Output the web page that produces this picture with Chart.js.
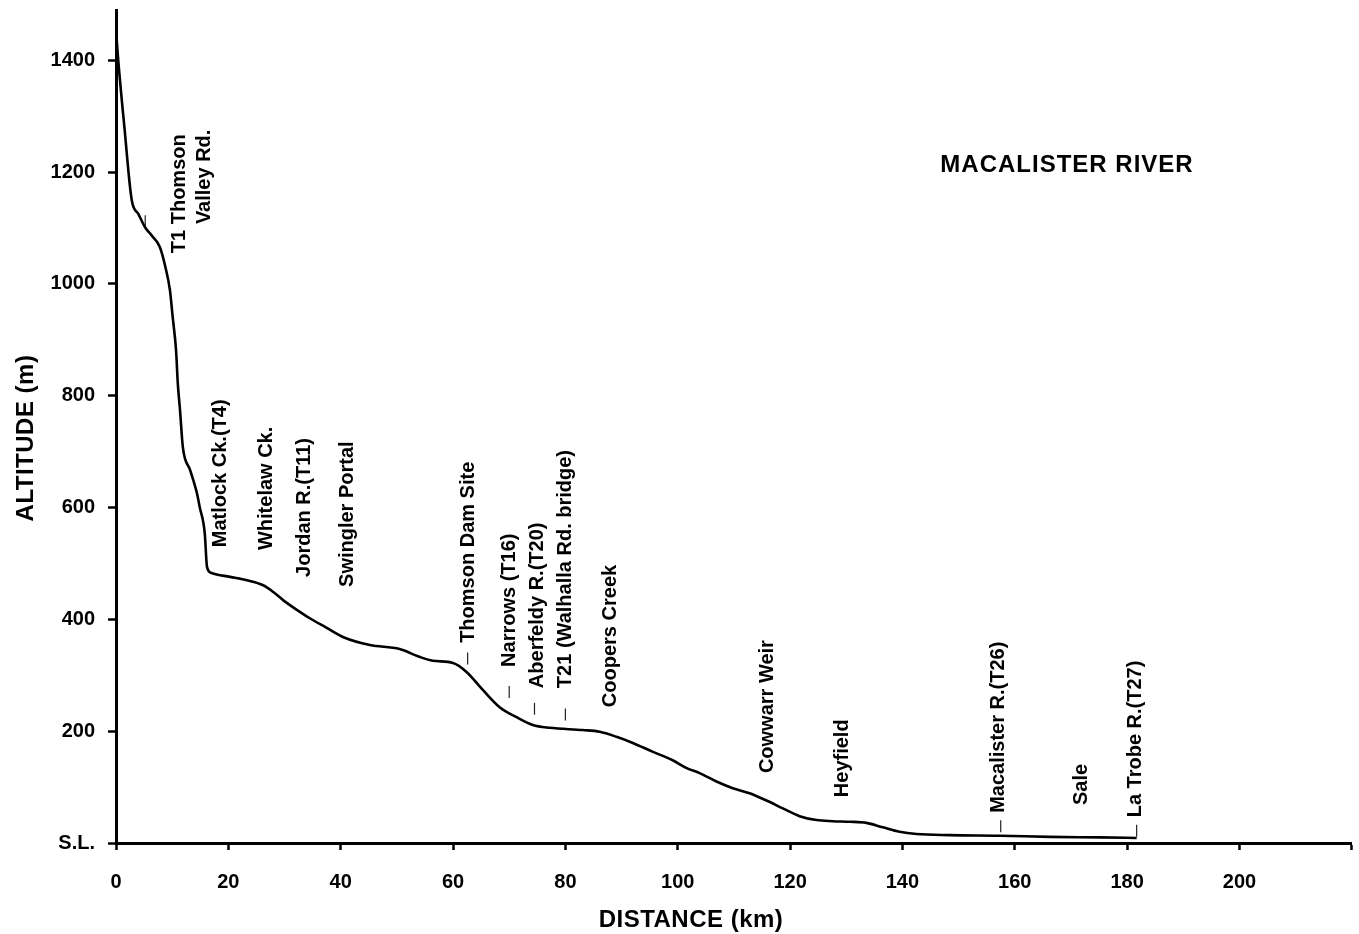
<!DOCTYPE html>
<html>
<head>
<meta charset="utf-8">
<title>Macalister River profile</title>
<script src="https://cdn.jsdelivr.net/npm/chart.js@4/dist/chart.umd.min.js"></script>
<style>
  html, body { margin: 0; padding: 0; background: #fff; }
  #wrap { width: 1359px; height: 934px; }
</style>
</head>
<body>
<div id="wrap"><canvas id="profile" width="1359" height="934"></canvas></div>
<script>
// Long profile of the river: distance downstream (km) and bed altitude (m)
const distanceKm = [0.1, 0.4, 1.5, 2.8, 4.0, 5.2, 6.5, 7.8, 8.8, 9.6, 10.1, 10.7, 11.0, 11.4, 11.9,
  13.2, 14.4, 14.9, 15.8, 16.2, 17.0, 20.3, 23.3, 26.2, 28.0, 29.8, 32.2, 34.5, 37.5, 40.5,
  45.2, 50.5, 54.0, 56.4, 60.0, 62.4, 65.3, 68.3, 71.3, 74.2, 77.2, 83.1, 86.1, 89.1, 92.0,
  95.6, 99.1, 101.6, 103.9, 106.9, 109.8, 112.8, 115.8, 118.7, 121.7, 124.7, 127.6, 130.6,
  133.6, 136.5, 139.5, 142.5, 148.4, 157.3, 166.2, 175.1, 181.7];
const altitudeM = [1440, 1400, 1280, 1150, 1125, 1101, 1085, 1066, 1030, 989, 940, 880, 822, 774, 708,
  667, 626, 601, 554, 494, 483, 476, 470, 461, 449, 434, 417, 402, 385, 368,
  354, 347, 333, 326, 322, 306, 274, 243, 225, 211, 206, 202, 199, 190, 179,
  163, 148, 134, 125, 110, 98, 89, 76, 62, 48, 41, 39, 38,
  36, 28, 20, 16, 14, 13, 11, 10, 9];

// Small site marks on the profile
const markKm = [5.2, 62.6, 70.0, 74.5, 80.0, 157.5, 181.7];
const markAlt = [1112, 330, 270, 240, 230, 30, 22];

// Place names, with the point where each rotated label starts
const placeNames = ['T1 Thomson', 'Valley Rd.', 'Matlock Ck.(T4)', 'Whitelaw Ck.', 'Jordan R.(T11)',
  'Swingler Portal', 'Thomson Dam Site', 'Narrows (T16)', 'Aberfeldy R.(T20)',
  'T21 (Walhalla Rd. bridge)', 'Coopers Creek', 'Cowwarr Weir', 'Heyfield',
  'Macalister R.(T26)', 'Sale', 'La Trobe R.(T27)'];
const placeKm = [12.3, 16.7, 19.6, 27.8, 34.5, 42.2, 63.7, 71.0, 76.0, 81.0, 89.0, 116.9, 130.4,
  158.0, 172.8, 182.4];
const placeAlt = [1055, 1107, 529, 524, 476, 458, 358, 315, 277, 277, 243, 125, 82, 54, 68, 46];

// Axis ticks
const distanceTicks = [0, 20, 40, 60, 80, 100, 120, 140, 160, 180, 200];
const altitudeTicks = [0, 200, 400, 600, 800, 1000, 1200, 1400];
const altitudeTickText = ['S.L.', '200', '400', '600', '800', '1000', '1200', '1400'];

const riverName = 'MACALISTER RIVER';
const xTitle = 'DISTANCE (km)';
const yTitle = 'ALTITUDE (m)';

const FONT = "'Liberation Sans', Arial, Helvetica, sans-serif";

const annotate = {
  id: 'annotate',
  afterDatasetsDraw(chart) {
    const { ctx, scales: { x, y } } = chart;
    ctx.save();
    ctx.fillStyle = '#000';
    ctx.font = `bold 20px ${FONT}`;
    ctx.textAlign = 'left';
    ctx.textBaseline = 'alphabetic';
    placeNames.forEach((name, i) => {
      ctx.save();
      ctx.translate(x.getPixelForValue(placeKm[i]), y.getPixelForValue(placeAlt[i]));
      ctx.rotate(-Math.PI / 2);
      ctx.fillText(name, 0, 0);
      ctx.restore();
    });

    // river name
    ctx.font = `bold 24px ${FONT}`;
    ctx.letterSpacing = '1px';
    ctx.textAlign = 'center';
    ctx.fillText(riverName, 1067, 172);

    // axis titles
    ctx.font = `bold 24px ${FONT}`;
    ctx.letterSpacing = '0.5px';
    ctx.fillText(xTitle, 691, 927);
    ctx.save();
    ctx.translate(33, 438);
    ctx.rotate(-Math.PI / 2);
    ctx.fillText(yTitle, 0, 0);
    ctx.restore();
    ctx.restore();
  }
};

new Chart(document.getElementById('profile'), {
  type: 'line',
  data: {
    datasets: [
      {
        data: distanceKm.map((d, i) => ({ x: d, y: altitudeM[i] })),
        borderColor: '#000',
        borderWidth: 2.6,
        pointRadius: 0,
        cubicInterpolationMode: 'monotone',
        fill: false
      },
      {
        data: markKm.map((d, i) => ({ x: d, y: markAlt[i] })),
        showLine: false,
        pointStyle: 'line',
        rotation: 90,
        pointRadius: 6,
        borderColor: '#222',
        borderWidth: 1.2
      }
    ]
  },
  options: {
    responsive: false,
    animation: false,
    events: [],
    layout: { padding: { left: 0, right: 7, top: 10, bottom: 0 } },
    plugins: { legend: { display: false }, tooltip: { enabled: false }, title: { display: false } },
    scales: {
      x: {
        type: 'linear',
        min: 0,
        max: 220,
        afterFit(scale) {
          scale.height = 91;
          scale.paddingLeft = 0;
          scale.paddingRight = 0;
        },
        afterBuildTicks(scale) {
          scale.ticks = distanceTicks.concat([220]).map(v => ({ value: v }));
        },
        ticks: {
          autoSkip: false,
          maxRotation: 0,
          padding: 20,
          color: '#000',
          font: { family: FONT, size: 20, weight: 'bold' },
          callback: v => (distanceTicks.includes(v) ? String(v) : '')
        },
        grid: { drawOnChartArea: false, drawTicks: true, tickLength: 7, tickColor: '#000', tickWidth: 2.5 },
        border: { display: true, color: '#000', width: 3 }
      },
      y: {
        type: 'linear',
        min: 0,
        max: 1490,
        afterFit(scale) {
          scale.width = 116;
          scale.paddingTop = 0;
          scale.paddingBottom = 0;
        },
        afterBuildTicks(scale) {
          scale.ticks = altitudeTicks.map(v => ({ value: v }));
        },
        ticks: {
          autoSkip: false,
          padding: 13,
          color: '#000',
          font: { family: FONT, size: 20, weight: 'bold' },
          callback: v => altitudeTickText[altitudeTicks.indexOf(v)]
        },
        grid: { drawOnChartArea: false, drawTicks: true, tickLength: 8, tickColor: '#000', tickWidth: 2.5 },
        border: { display: true, color: '#000', width: 3 }
      }
    }
  },
  plugins: [annotate]
});
</script>
</body>
</html>
